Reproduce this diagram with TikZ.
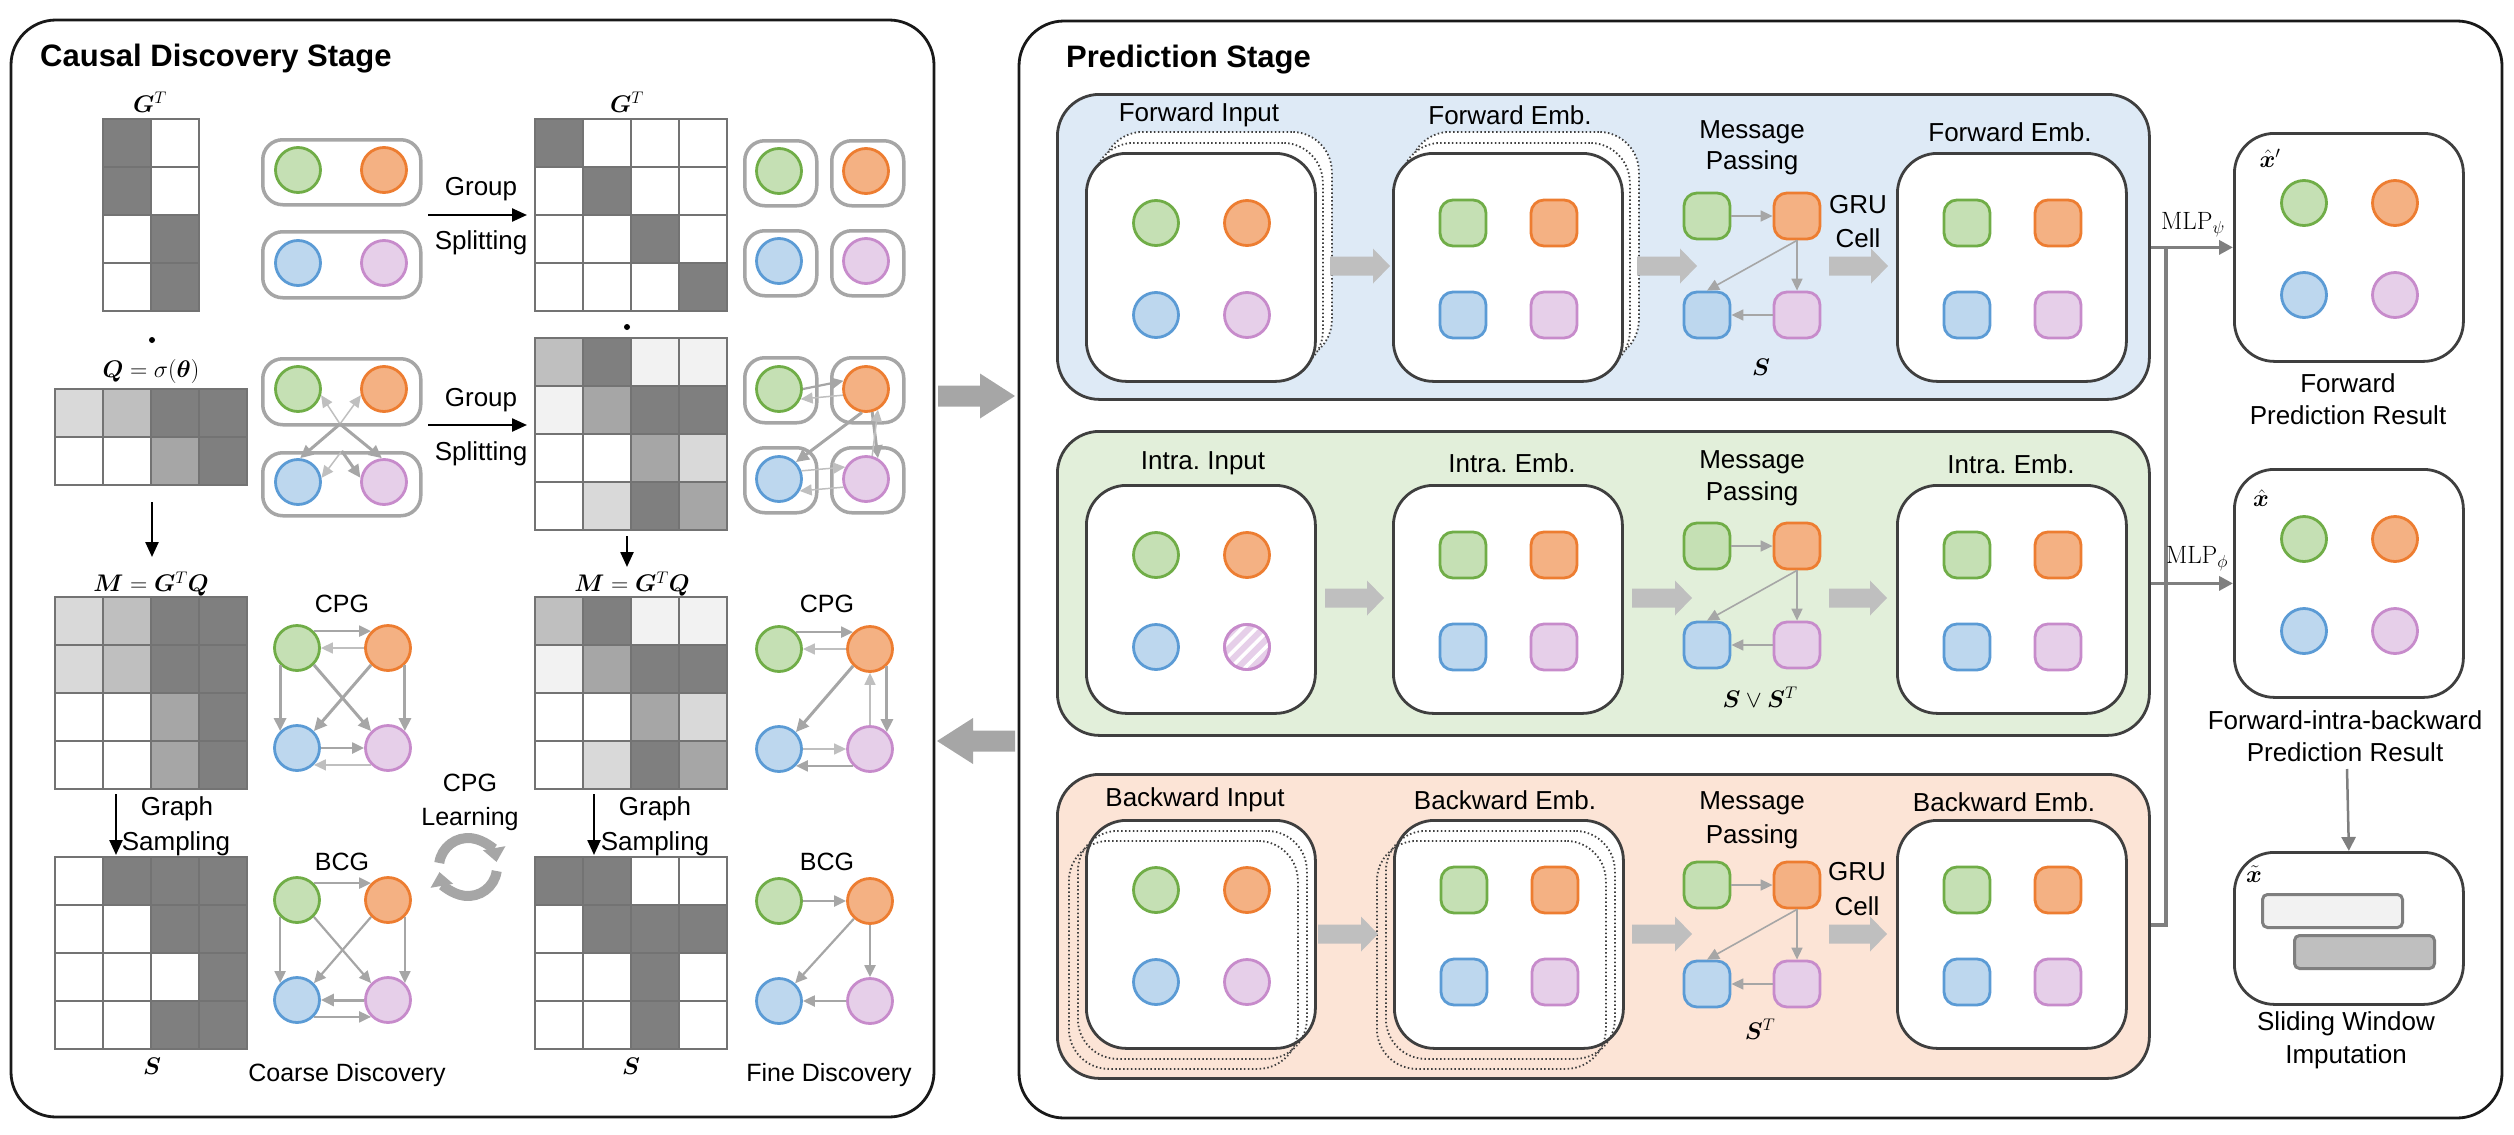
\RequirePackage{fix-cm}
\documentclass[tikz,border=0pt]{standalone}
\usepackage{amsmath}
\usepackage{bm}
\usepackage[no-math]{fontspec}
\setmainfont{Liberation Sans}
\usetikzlibrary{arrows.meta,patterns.meta}
\frenchspacing

\definecolor{gF}{HTML}{C5E0B4}\definecolor{gS}{HTML}{70AD47}
\definecolor{oF}{HTML}{F4B183}\definecolor{oS}{HTML}{ED7D31}
\definecolor{bF}{HTML}{BDD7EE}\definecolor{bS}{HTML}{5B9BD5}
\definecolor{pF}{HTML}{E6CFE9}\definecolor{pS}{HTML}{C78BCB}
\definecolor{mD}{HTML}{7F7F7F}\definecolor{mM}{HTML}{A6A6A6}
\definecolor{mL}{HTML}{BFBFBF}\definecolor{mLL}{HTML}{D9D9D9}
\definecolor{mW}{HTML}{F2F2F2}\definecolor{gridc}{HTML}{737373}
\definecolor{dk}{HTML}{3F3F3F}
\definecolor{rowBlue}{HTML}{DEEAF6}\definecolor{rowGreen}{HTML}{E2EFDA}
\definecolor{rowPink}{HTML}{FCE4D6}

\tikzset{
  every node/.style={inner sep=0pt},
  lbl/.style={font=\fontsize{26}{30}\selectfont},
  lblc/.style={font=\fontsize{25}{30}\selectfont},
  mlab/.style={font=\fontsize{24}{28}\selectfont},
  mlp/.style={font=\fontsize{25}{28}\selectfont},
  ttl/.style={font=\fontsize{31}{36}\selectfont\bfseries, anchor=west},
  panel/.style={draw=black!90, line width=2.8pt, rounded corners=45pt},
  gridl/.style={draw=gridc, line width=2.6pt, line cap=rect},
  gN/.style={circle, draw=gS, fill=gF, line width=2.8pt, minimum size=45pt},
  oN/.style={circle, draw=oS, fill=oF, line width=2.8pt, minimum size=45pt},
  bN/.style={circle, draw=bS, fill=bF, line width=2.8pt, minimum size=45pt},
  pN/.style={circle, draw=pS, fill=pF, line width=2.8pt, minimum size=45pt},
  gQ/.style={rectangle, rounded corners=13pt, draw=gS, fill=gF, line width=2.8pt, minimum size=46pt},
  oQ/.style={rectangle, rounded corners=13pt, draw=oS, fill=oF, line width=2.8pt, minimum size=46pt},
  bQ/.style={rectangle, rounded corners=13pt, draw=bS, fill=bF, line width=2.8pt, minimum size=46pt},
  pQ/.style={rectangle, rounded corners=13pt, draw=pS, fill=pF, line width=2.8pt, minimum size=46pt},
  hatch/.style={postaction={pattern={Lines[angle=45,distance=10pt,line width=3.5pt]}, pattern color=white},
                postaction={draw=pS, line width=2.8pt}},
  grp/.style={draw=mM, line width=3.5pt, rounded corners=20pt, anchor=north west},
  ibox/.style={draw=dk, fill=white, line width=2.8pt, rounded corners=40pt, minimum width=229pt, minimum height=228pt, anchor=north west},
  dbox/.style={draw=dk, line width=1.8pt, dash pattern=on 1.5pt off 2.4pt, rounded corners=40pt, minimum width=229pt, minimum height=228pt, anchor=north west},
  rowbox/.style={draw=dk, line width=2.8pt, rounded corners=42pt, minimum width=1092pt, anchor=north west},
  blk/.style={draw=black, line width=2.4pt, -{Triangle[length=15pt,width=13pt]}},
  ed/.style={draw=mM, line width=3pt, -{Triangle[length=13pt,width=12pt]}},
  edm/.style={draw=mM, line width=2.2pt, -{Triangle[length=12pt,width=11pt]}},
  edl/.style={draw=mL, line width=1.5pt, -{Triangle[length=12pt,width=11pt]}},
  mpe/.style={draw=mM, line width=1.6pt, -{Triangle[length=12pt,width=11pt]}},
  conn/.style={draw=mD, line width=3.5pt},
  conna/.style={conn, -{Triangle[length=14pt,width=14pt]}},
  cycarr/.style={draw=mM, line width=10pt, -{Triangle[length=14pt,width=22pt]}},
}

\newcommand{\gridmat}[6]{%
  \node[minimum width={#4*48}, minimum height={#5*48}, anchor=north west] (#1) at (#2,#3) {};
  \foreach \mc/\mr/\mcol in {#6} {\fill[\mcol] ({#2+\mc*48},{#3+\mr*48}) rectangle ++(48,48);}
  \foreach \mi in {0,...,#4} {\draw[gridl] ({#2+\mi*48},#3) -- ++(0,{#5*48});}
  \foreach \mj in {0,...,#5} {\draw[gridl] (#2,{#3+\mj*48}) -- ++({#4*48},0);}
}
\newcommand{\quadset}[5][]{%
  \node[g#5] (#2g) at ({#3+71},{#4+71}) {};
  \node[o#5] (#2o) at ({#3+162},{#4+71}) {};
  \node[b#5] (#2b) at ({#3+71},{#4+163}) {};
  \node[p#5,#1] (#2p) at ({#3+162},{#4+163}) {};
}
\newcommand{\graphset}[3]{%
  \node[gN] (#1g) at (#2,#3) {};
  \node[oN] (#1o) at ({#2+91},#3) {};
  \node[bN] (#1b) at (#2,{#3+100}) {};
  \node[pN] (#1p) at ({#2+91},{#3+100}) {};
}
\newcommand{\mpset}[2]{%
  \node[gQ] (#1g) at (1707,#2) {};
  \node[oQ] (#1o) at (1797,#2) {};
  \node[bQ] (#1b) at (1707,{#2+99}) {};
  \node[pQ] (#1p) at (1797,{#2+99}) {};
  \draw[mpe] (#1g) -- (#1o);
  \draw[mpe] (#1o) -- (#1p);
  \draw[mpe] (#1o.south) -- (#1b.north);
  \draw[mpe] (#1p) -- (#1b);
}
\newcommand{\blkarrow}[7][mL]{%
  \fill[#1] (#2,{#4-#5}) -- ({#3-(#7)},{#4-#5}) -- ({#3-(#7)},{#4-#6}) -- (#3,#4)
    -- ({#3-(#7)},{#4+#6}) -- ({#3-(#7)},{#4+#5}) -- (#2,{#4+#5}) -- cycle;
}

\begin{document}
\begin{tikzpicture}[x=1pt,y=-1pt]
\useasboundingbox (0,0) rectangle (2514,1135);

% ================= LEFT PANEL =================
\draw[panel] (11,20) rectangle (934,1117);
\node[ttl] (ttlL) at (40,59) {Causal Discovery Stage};

% matrices
\gridmat{mGa}{103}{119}{2}{4}{0/0/mD,0/1/mD,1/2/mD,1/3/mD}
\gridmat{mQa}{55}{389}{4}{2}{0/0/mLL,1/0/mL,2/0/mD,3/0/mD,2/1/mM,3/1/mD}
\gridmat{mMa}{55}{597}{4}{4}{0/0/mLL,1/0/mL,2/0/mD,3/0/mD,0/1/mLL,1/1/mL,2/1/mD,3/1/mD,2/2/mM,3/2/mD,2/3/mM,3/3/mD}
\gridmat{mSa}{55}{857}{4}{4}{1/0/mD,2/0/mD,3/0/mD,2/1/mD,3/1/mD,3/2/mD,2/3/mD,3/3/mD}
\gridmat{mGb}{535}{119}{4}{4}{0/0/mD,1/1/mD,2/2/mD,3/3/mD}
\gridmat{mQb}{535}{338}{4}{4}{0/0/mL,1/0/mD,2/0/mW,3/0/mW,0/1/mW,1/1/mM,2/1/mD,3/1/mD,2/2/mM,3/2/mLL,1/3/mLL,2/3/mD,3/3/mM}
\gridmat{mMb}{535}{597}{4}{4}{0/0/mL,1/0/mD,2/0/mW,3/0/mW,0/1/mW,1/1/mM,2/1/mD,3/1/mD,2/2/mM,3/2/mLL,1/3/mLL,2/3/mD,3/3/mM}
\gridmat{mSb}{535}{857}{4}{4}{0/0/mD,1/0/mD,1/1/mD,2/1/mD,3/1/mD,2/2/mD,2/3/mD}

% matrix labels
\node[mlab] (lGa) at (150,102) {$\bm{G}^{T}$};
\node[circle, fill=black, minimum size=6pt] (dotA) at (152,340) {};
\node[mlab] (lQa) at (151,371) {$\bm{Q}=\sigma(\bm{\theta})$};
\node[mlab] (lMa) at (151,584) {$\bm{M} = \bm{G}^{T}\bm{Q}$};
\node[mlab] (lSa) at (152,1066) {$\bm{S}$};
\node[mlab] (lGb) at (627,102) {$\bm{G}^{T}$};
\node[circle, fill=black, minimum size=6pt] (dotB) at (627,327) {};
\node[mlab] (lMb) at (632,584) {$\bm{M} = \bm{G}^{T}\bm{Q}$};
\node[mlab] (lSb) at (631,1066) {$\bm{S}$};

% black down arrows
\coordinate (da1) at (152,502); \coordinate (da2) at (152,557);
\draw[blk] (da1) -- (da2);
\coordinate (db1) at (627,536); \coordinate (db2) at (627,567);
\draw[blk] (db1) -- (db2);
\coordinate (dc1) at (116,794); \coordinate (dc2) at (116,855);
\draw[blk] (dc1) -- (dc2);
\coordinate (dd1) at (594,794); \coordinate (dd2) at (594,855);
\draw[blk] (dd1) -- (dd2);

% group splitting arrows
\coordinate (gs1a) at (428,215); \coordinate (gs1b) at (527,215);
\draw[blk] (gs1a) -- (gs1b);
\node[lbl] (gsT1) at (481,189) {Group};
\node[lbl] (gsB1) at (481,243) {Splitting};
\coordinate (gs2a) at (428,425); \coordinate (gs2b) at (527,425);
\draw[blk] (gs2a) -- (gs2b);
\node[lbl] (gsT2) at (481,400) {Group};
\node[lbl] (gsB2) at (481,454) {Splitting};

% group boxes, first set (two groups)
\node[grp, minimum width=158pt, minimum height=65pt] (ga1) at (261,138) {};
\node[grp, minimum width=158pt, minimum height=66pt] (ga2) at (261,230) {};
\node[gN] (a1g) at (298,170) {};
\node[oN] (a1o) at (384,170) {};
\node[bN] (a1b) at (298,263) {};
\node[pN] (a1p) at (384,263) {};

% second set (two groups with edges)
\node[grp, minimum width=158pt, minimum height=66pt] (gb1) at (261,357) {};
\node[grp, minimum width=158pt, minimum height=63pt] (gb2) at (261,451) {};
\node[gN] (a2g) at (298,389) {};
\node[oN] (a2o) at (384,389) {};
\node[bN] (a2b) at (298,482) {};
\node[pN] (a2p) at (384,482) {};
\coordinate (X1) at (340,424);
\draw[edl] (X1) -- (a2g.-15);
\draw[edl] (X1) -- (a2o.195);
\draw[ed] (X1) -- (a2p.95);
\draw[ed] (X1) -- (a2b.85);
\draw[edl] (gb2.north) -- (a2b.10);
\draw[ed] (gb2.north) -- (a2p.170);

% individual boxes, first set
\node[grp, minimum width=72pt, minimum height=65pt] (gc1) at (743,139) {};
\node[grp, minimum width=72pt, minimum height=65pt] (gc2) at (830,139) {};
\node[grp, minimum width=72pt, minimum height=65pt] (gc3) at (743,229) {};
\node[grp, minimum width=72pt, minimum height=65pt] (gc4) at (830,229) {};
\node[gN] (b1g) at (779,171) {};
\node[oN] (b1o) at (866,171) {};
\node[bN] (b1b) at (779,261) {};
\node[pN] (b1p) at (866,261) {};

% individual boxes, second set
\node[grp, minimum width=72pt, minimum height=65pt] (gd1) at (743,356) {};
\node[grp, minimum width=72pt, minimum height=65pt] (gd2) at (830,356) {};
\node[grp, minimum width=72pt, minimum height=65pt] (gd3) at (743,446) {};
\node[grp, minimum width=72pt, minimum height=65pt] (gd4) at (830,446) {};
\node[gN] (b2g) at (779,389) {};
\node[oN] (b2o) at (866,389) {};
\node[bN] (b2b) at (779,479) {};
\node[pN] (b2p) at (866,479) {};
\draw[edm] (b2g.0) -- (b2o.160);
\draw[edl] (b2o.195) -- (b2g.-25);
\draw[ed] (b2o.-100) -- (b2b.45);
\draw[ed] (b2o.-75) -- (b2p.60);
\draw[edl] (b2p.75) -- (b2o.-60);
\draw[edl] (b2b.20) -- (b2p.150);
\draw[edl] (b2p.200) -- (b2b.-30);

% coarse CPG
\node[lblc] (cpgA) at (342,604) {CPG};
\graphset{cC}{297}{648}
\draw[edm] (cCg.45) -- (cCo.135);
\draw[edl] (cCo.180) -- (cCg.0);
\draw[ed] (cCg.-135) -- (cCb.135);
\draw[ed] (cCo.-45) -- (cCp.45);
\draw[ed] (cCg.-45) -- (cCp.135);
\draw[ed] (cCo.-135) -- (cCb.45);
\draw[edm] (cCb.0) -- (cCp.180);
\draw[edl] (cCp.-135) -- (cCb.-45);

% coarse BCG
\node[lblc] (bcgA) at (342,862) {BCG};
\graphset{cB}{297}{900}
\draw[edm] (cBg.45) -- (cBo.135);
\draw[edm] (cBg.-135) -- (cBb.135);
\draw[edm] (cBo.-45) -- (cBp.45);
\draw[edm] (cBg.-45) -- (cBp.135);
\draw[edm] (cBo.-135) -- (cBb.45);
\draw[ed] (cBp.180) -- (cBb.0);
\draw[edm] (cBb.-45) -- (cBp.-135);

% fine CPG
\node[lblc] (cpgB) at (827,604) {CPG};
\graphset{fC}{779}{649}
\draw[edm] (fCg.45) -- (fCo.135);
\draw[edl] (fCo.180) -- (fCg.0);
\draw[ed] (fCo.-135) -- (fCb.45);
\draw[ed] (fCo.-45) -- (fCp.45);
\draw[edl] (fCp.90) -- (fCo.-90);
\draw[edl] (fCb.0) -- (fCp.180);
\draw[edm] (fCp.-135) -- (fCb.-45);

% fine BCG
\node[lblc] (bcgB) at (827,862) {BCG};
\graphset{fB}{779}{901}
\draw[edm] (fBg) -- (fBo);
\draw[edm] (fBo) -- (fBb);
\draw[edm] (fBo) -- (fBp);
\draw[edm] (fBp) -- (fBb);

% texts
\node[lbl] (gsmA1) at (177,809) {Graph};
\node[lbl] (gsmA2) at (176,844) {Sampling};
\node[lbl] (gsmB1) at (655,809) {Graph};
\node[lbl] (gsmB2) at (655,844) {Sampling};
\node[lblc] (cplA) at (470,783) {CPG};
\node[lblc] (cplB) at (470,819) {Learning};
\node[lblc] (coarse) at (347,1075) {Coarse Discovery};
\node[lblc] (fine) at (829,1075) {Fine Discovery};

% cycle icon
\coordinate (cyc) at (468,867);
\draw[cycarr] (cyc) ++(188:29) arc[start angle=188, end angle=350, radius=29];
\draw[cycarr] (cyc) ++(8:29) arc[start angle=8, end angle=170, radius=29];

% inter-panel arrows
\blkarrow[mM]{938}{1015}{396}{10.5}{22.5}{35}
\blkarrow[mM]{1015}{937}{741}{10.5}{23}{-36}

% ================= RIGHT PANEL =================
\draw[panel] (1019,21) rectangle (2502,1118);
\node[ttl] (ttlR) at (1066,60) {Prediction Stage};

\node[rowbox, fill=rowBlue, minimum height=305pt] (rowF) at (1056,93) {};
\node[rowbox, fill=rowGreen, minimum height=304pt] (rowI) at (1056,430) {};
\node[rowbox, fill=rowPink, minimum height=304pt] (rowB) at (1056,773) {};

% ---- forward row
\node[dbox, fill=white] (fIc2) at (1102,131) {};
\node[dbox, fill=white] (fIc1) at (1093,142) {};
\node[ibox] (fI) at (1085,152) {};
\quadset{fIn}{1085}{152}{N}
\node[dbox, fill=white] (fEc2) at (1409,131) {};
\node[dbox, fill=white] (fEc1) at (1400,142) {};
\node[ibox] (fE) at (1392,152) {};
\quadset{fEn}{1392}{152}{Q}
\node[ibox] (fR) at (1896,152) {};
\quadset{fRn}{1896}{152}{Q}
\mpset{mF}{216}
\node[lbl] (fIl) at (1199,115) {Forward Input};
\node[lbl] (fEl) at (1510,115) {Forward Emb.};
\node[lbl] (fM1) at (1752,132) {Message};
\node[lbl] (fM2) at (1752,163) {Passing};
\node[lbl] (fG1) at (1858,205) {GRU};
\node[lbl] (fG2) at (1858,238) {Cell};
\node[mlab] (fS) at (1761,367) {$\bm{S}$};
\node[lbl] (fRl) at (2010,132) {Forward Emb.};
\blkarrow{1330}{1390}{266}{9.5}{17.5}{17}
\blkarrow{1637}{1697}{266}{9.5}{17.5}{17}
\blkarrow{1829}{1888}{266}{9.5}{17.5}{17}

% ---- intra row
\node[ibox] (iI) at (1085,484) {};
\quadset[hatch]{iIn}{1085}{484}{N}
\node[ibox] (iE) at (1392,484) {};
\quadset{iEn}{1392}{484}{Q}
\node[ibox] (iR) at (1896,484) {};
\quadset{iRn}{1896}{484}{Q}
\mpset{mI}{546}
\node[lbl] (iIl) at (1203,463) {Intra. Input};
\node[lbl] (iEl) at (1512,463) {Intra. Emb.};
\node[lbl] (iM1) at (1752,462) {Message};
\node[lbl] (iM2) at (1752,494) {Passing};
\node[mlab] (iS) at (1760,697) {$\bm{S}\vee\bm{S}^{T}$};
\node[lbl] (iRl) at (2011,464) {Intra. Emb.};
\blkarrow{1325}{1384}{598}{9.5}{17.5}{17}
\blkarrow{1632}{1692}{598}{9.5}{17.5}{17}
\blkarrow{1829}{1887}{598}{9.5}{17.5}{17}

% ---- backward row
\node[ibox] (bI) at (1085,819) {};
\quadset{bIn}{1085}{819}{N}
\node[dbox] (bIc1) at (1077,830) {};
\node[dbox] (bIc2) at (1068,840) {};
\node[ibox] (bE) at (1393,819) {};
\quadset{bEn}{1393}{819}{Q}
\node[dbox] (bEc1) at (1385,830) {};
\node[dbox] (bEc2) at (1376,840) {};
\node[ibox] (bR) at (1896,819) {};
\quadset{bRn}{1896}{819}{Q}
\mpset{mB}{885}
\node[lbl] (bIl) at (1195,800) {Backward Input};
\node[lbl] (bEl) at (1505,800) {Backward Emb.};
\node[lbl] (bM1) at (1752,803) {Message};
\node[lbl] (bM2) at (1752,837) {Passing};
\node[lbl] (bG1) at (1857,872) {GRU};
\node[lbl] (bG2) at (1857,906) {Cell};
\node[mlab] (bS) at (1760,1029) {$\bm{S}^{T}$};
\node[lbl] (bRl) at (2004,802) {Backward Emb.};
\blkarrow{1318}{1378}{934}{9.5}{17.5}{17}
\blkarrow{1632}{1692}{934}{9.5}{17.5}{17}
\blkarrow{1829}{1887}{934}{9.5}{17.5}{17}

% ---- right column
\node[ibox] (xhp) at (2233,132) {};
\quadset{xpn}{2233}{132}{N}
\node[mlab] (xhpl) at (2270,158) {$\hat{\bm{x}}'$};
\node[lbl] (xhpc1) at (2348,383) {Forward};
\node[lbl] (xhpc2) at (2348,415) {Prediction Result};

\node[ibox] (xh) at (2233,468) {};
\quadset{xhn}{2233}{468}{N}
\node[mlab] (xhl) at (2261,498) {$\hat{\bm{x}}$};
\node[lbl] (xhc1) at (2345,720) {Forward-intra-backward};
\node[lbl] (xhc2) at (2345,752) {Prediction Result};

\node[ibox, minimum height=152pt] (xt) at (2233,851) {};
\node[mlab] (xtl) at (2254,874) {$\tilde{\bm{x}}$};
\node[draw=mD, fill=mW, line width=3pt, rounded corners=5pt, minimum width=140pt, minimum height=33pt, anchor=north west] (bar1) at (2261,893) {};
\node[draw=mD, fill=mL, line width=3pt, rounded corners=5pt, minimum width=140pt, minimum height=33pt, anchor=north west] (bar2) at (2293,934) {};
\node[lbl] (xtc1) at (2346,1024) {Sliding Window};
\node[lbl] (xtc2) at (2346,1057) {Imputation};

\coordinate (ar1) at (2347,769);
\draw[conna, line width=2.5pt] (ar1) -- (xt.north);

% connectors
\coordinate (vt) at (2166,246);
\coordinate (vb) at (2166,925);
\draw[conn] (vt) -- (vb) -- (rowB.east |- vb);
\draw[conna] (rowF.east |- xhp.west) -- (xhp.west);
\draw[conna] (rowI.east |- xh.west) -- (xh.west);
\node[mlp] (mlp1) at (2193,225) {$\mathrm{MLP}_{\psi}$};
\node[mlp] (mlp2) at (2197,559) {$\mathrm{MLP}_{\phi}$};

\end{tikzpicture}
\end{document}
